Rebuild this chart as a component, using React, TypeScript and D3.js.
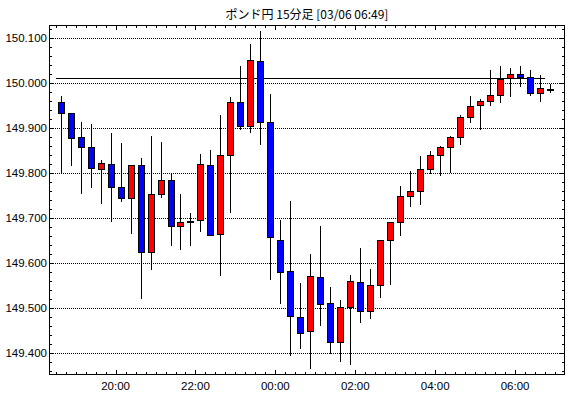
import React from "react";
import * as d3 from "d3";

const title = "ポンド円 15分足 [03/06 06:49]";
const firstCandle = new Date(2024, 2, 5, 18, 30);
const axisStart = new Date(2024, 2, 5, 18, 20);
const axisEnd = new Date(2024, 2, 6, 7, 15);
const candleMinutes = 15;

const opens = [
  149.956, 149.933, 149.878, 149.856, 149.809, 149.82, 149.767, 149.744, 149.816, 149.624,
  149.753, 149.784, 149.681, 149.692, 149.694, 149.816, 149.664, 149.84, 149.956, 149.904,
  150.049, 149.913, 149.651, 149.581, 149.48, 149.447, 149.567, 149.509, 149.424, 149.502,
  149.556, 149.493, 149.551, 149.649, 149.689, 149.747, 149.76, 149.809, 149.838, 149.856,
  149.878, 149.924, 149.951, 149.96, 149.973, 150.011, 150.02, 150.013, 149.976, 149.986,
];
const highs = [
  149.97, 149.933, 149.912, 149.907, 149.827, 149.887, 149.865, 149.817, 149.832, 149.881,
  149.867, 149.796, 149.753, 149.711, 149.842, 149.851, 149.929, 149.967, 150.037, 150.085,
  150.114, 149.974, 149.694, 149.736, 149.554, 149.618, 149.681, 149.545, 149.516, 149.572,
  149.632, 149.585, 149.649, 149.691, 149.77, 149.804, 149.836, 149.847, 149.858, 149.882,
  149.927, 149.97, 149.964, 150.027, 150.036, 150.033, 150.036, 150.027, 150.016, 149.996,
];
const lows = [
  149.8, 149.815, 149.753, 149.766, 149.729, 149.689, 149.735, 149.664, 149.52, 149.583,
  149.744, 149.637, 149.627, 149.637, 149.668, 149.659, 149.57, 149.709, 149.894, 149.887,
  149.861, 149.561, 149.507, 149.393, 149.407, 149.364, 149.459, 149.396, 149.379, 149.373,
  149.466, 149.475, 149.521, 149.55, 149.659, 149.724, 149.728, 149.797, 149.792, 149.8,
  149.861, 149.91, 149.895, 149.947, 149.955, 149.968, 149.99, 149.97, 149.957, 149.976,
];
const closes = [
  149.933, 149.877, 149.856, 149.811, 149.822, 149.767, 149.744, 149.816, 149.624, 149.753,
  149.784, 149.681, 149.691, 149.692, 149.818, 149.662, 149.838, 149.956, 149.904, 150.051,
  149.913, 149.656, 149.58, 149.482, 149.444, 149.569, 149.507, 149.424, 149.502, 149.56,
  149.493, 149.551, 149.649, 149.689, 149.747, 149.758, 149.809, 149.838, 149.856, 149.878,
  149.924, 149.949, 149.96, 149.973, 150.009, 150.02, 150.012, 149.976, 149.987, 149.986,
];
const refLevel = 150.011;
const yTickValues = [149.4, 149.5, 149.6, 149.7, 149.8, 149.9, 150.0, 150.1];

export default function App() {
  const W = 570;
  const H = 398;
  const L = 49;
  const R = 565;
  const T = 25;
  const B = 375;

  const x = d3.scaleTime().domain([axisStart, axisEnd]).range([L, R]);
  const y = d3.scaleLinear().domain([149.35, 150.128]).range([B, T]);

  const candleTime = (i: number) => d3.timeMinute.offset(firstCandle, i * candleMinutes);
  const centerX = (i: number) => x(d3.timeSecond.offset(candleTime(i), candleMinutes * 30));

  const minorX = d3.timeMinute.every(15)!.range(axisStart, axisEnd);
  const majorX = d3.timeHour.every(2)!.range(axisStart, axisEnd);
  const fmt = d3.timeFormat("%H:%M");

  const minorY = d3.range(149.36, 150.121, 0.02).map((v) => Math.round(v * 1000) / 1000);

  const cr = (v: number) => Math.round(v) + 0.5;

  const lineFrom = x(candleTime(0));
  const lineTo = x(candleTime(opens.length - 1));

  const font = "'Liberation Sans', Arial, sans-serif";

  return (
    <svg
      width={W}
      height={H}
      style={{ position: "absolute", left: 0, top: 0, background: "#fff" }}
      fontFamily={font}
    >
      <rect x={0} y={0} width={W} height={H} fill="#fff" />
      <text
        x={(L + R) / 2}
        y={19}
        textAnchor="middle"
        fontSize={12}
        fontFamily="'Noto Sans CJK JP', sans-serif"
        fill="#000"
      >
        {title}
      </text>

      {/* grid */}
      {yTickValues.map((v) => (
        <line
          key={"g" + v}
          x1={L}
          x2={R}
          y1={cr(y(v))}
          y2={cr(y(v))}
          stroke="#000"
          strokeDasharray="1,1"
          shapeRendering="crispEdges"
        />
      ))}

      {/* reference level */}
      <line
        x1={lineFrom}
        x2={lineTo}
        y1={cr(y(refLevel))}
        y2={cr(y(refLevel))}
        stroke="#000"
        strokeWidth={1.2}
        shapeRendering="crispEdges"
      />

      {/* y ticks */}
      {minorY.map((v) => {
        const yy = cr(y(v));
        const major = Math.abs(v * 10 - Math.round(v * 10)) < 1e-6;
        const len = major ? 5 : 3;
        return (
          <g key={"yt" + v}>
            <line x1={L} x2={L + len} y1={yy} y2={yy} stroke="#000" shapeRendering="crispEdges" />
            <line x1={R - len} x2={R} y1={yy} y2={yy} stroke="#000" shapeRendering="crispEdges" />
          </g>
        );
      })}

      {/* x ticks */}
      {minorX.map((d) => {
        const xx = cr(x(d));
        return (
          <g key={"xt" + d.getTime()}>
            <line x1={xx} x2={xx} y1={T} y2={T + 3} stroke="#000" shapeRendering="crispEdges" />
            <line x1={xx} x2={xx} y1={B - 3} y2={B} stroke="#000" shapeRendering="crispEdges" />
          </g>
        );
      })}
      {majorX.map((d) => {
        const xx = cr(x(d));
        return (
          <g key={"xm" + d.getTime()}>
            <line x1={xx} x2={xx} y1={T} y2={T + 5} stroke="#000" shapeRendering="crispEdges" />
            <line x1={xx} x2={xx} y1={B - 5} y2={B} stroke="#000" shapeRendering="crispEdges" />
            <text x={x(d)} y={390} textAnchor="middle" fontSize={11.5} fill="#000">
              {fmt(d)}
            </text>
          </g>
        );
      })}

      {/* y labels */}
      {yTickValues.map((v) => (
        <text
          key={"yl" + v}
          x={47}
          y={y(v)}
          dy="0.36em"
          textAnchor="end"
          fontSize={11.5}
          fill="#000"
        >
          {v.toFixed(3)}
        </text>
      ))}

      {/* candles */}
      {opens.map((o, i) => {
        const c = closes[i];
        const cx = Math.round(centerX(i));
        const yo = Math.round(y(o));
        const yc = Math.round(y(c));
        const top = Math.min(yo, yc);
        const bot = Math.max(yo, yc);
        const doji = yo === yc;
        const fill = doji ? "#000" : c > o ? "#ff0000" : "#0000ff";
        return (
          <g key={"c" + i}>
            <line
              x1={cx + 0.5}
              x2={cx + 0.5}
              y1={Math.round(y(highs[i]))}
              y2={Math.round(y(lows[i]))}
              stroke="#000"
              shapeRendering="crispEdges"
            />
            <rect
              x={cx - 3 + 0.5}
              y={top + 0.5}
              width={6}
              height={Math.max(bot - top, 1)}
              fill={fill}
              stroke="#000"
              shapeRendering="crispEdges"
            />
          </g>
        );
      })}

      {/* frame */}
      <rect
        x={L + 0.5}
        y={T + 0.5}
        width={R - L - 1}
        height={B - T - 1}
        fill="none"
        stroke="#000"
        shapeRendering="crispEdges"
      />
    </svg>
  );
}
